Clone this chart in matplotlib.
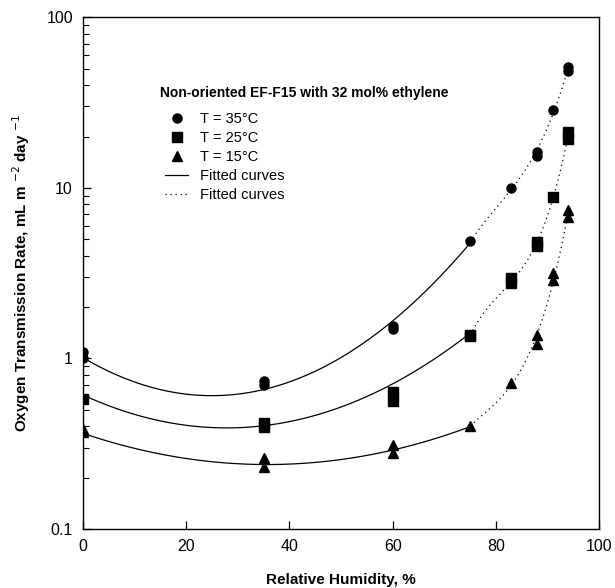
import numpy as np
import matplotlib
matplotlib.use('Agg')
import matplotlib.pyplot as plt
from matplotlib.lines import Line2D
from matplotlib.ticker import FixedLocator, FixedFormatter, LogLocator, NullFormatter

plt.rcParams['font.family'] = ['Liberation Sans', 'DejaVu Sans']

# measured points (RH %, OTR)
rh_35 = [0, 0, 35, 35, 60, 60, 75, 83, 88, 88, 91, 94, 94]
otr_35 = [1.09, 1.0, 0.74, 0.70, 1.54, 1.49, 4.88, 10.0, 16.3, 15.4, 28.5, 51.0, 48.7]
rh_25 = [0, 35, 35, 60, 60, 75, 75, 83, 83, 88, 88, 91, 94, 94]
otr_25 = [0.58, 0.418, 0.396, 0.636, 0.56, 1.375, 1.35, 2.95, 2.76, 4.83, 4.58, 8.85, 21.2, 19.4]
rh_15 = [0, 0, 35, 35, 60, 60, 75, 83, 88, 88, 91, 91, 94, 94]
otr_15 = [0.386, 0.37, 0.261, 0.231, 0.31, 0.279, 0.40, 0.72, 1.37, 1.21, 3.15, 2.88, 7.4, 6.77]

# fitted curves: solid part (0-75 %) and dotted part (75-94 %)
fit_low_x = {'35': [0, 24, 35, 47, 60, 73, 75],
             '25': [0, 30, 35, 47, 60, 73, 75],
             '15': [0, 36, 47, 60, 73, 75]}
fit_low_y = {'35': [1.0, 0.616, 0.677, 0.89, 1.57, 4.13, 4.8],
             '25': [0.61, 0.398, 0.403, 0.477, 0.705, 1.31, 1.37],
             '15': [0.364, 0.24, 0.248, 0.29, 0.377, 0.40]}
fit_high_x = [75, 83, 88, 91, 94]
fit_high_y = {'35': [4.8, 10.0, 16.0, 28.5, 50.0],
              '25': [1.37, 2.85, 4.7, 8.9, 20.3],
              '15': [0.40, 0.72, 1.29, 3.0, 7.05]}

fig = plt.figure(figsize=(6.15, 5.88), dpi=100)
ax = fig.add_axes([0.1345, 0.1003, 0.84, 0.8703])

dotted = (0, (1, 3))

# fitted curves (polynomial in log10 OTR)
for key in ['35', '25', '15']:
    c = np.polyfit(fit_low_x[key], np.log10(fit_low_y[key]), 2)
    xs = np.linspace(0, 75, 200)
    ax.plot(xs, 10 ** np.polyval(c, xs), color='black', lw=0.9)
    c = np.polyfit(fit_high_x, np.log10(fit_high_y[key]), 3)
    xs = np.linspace(75, 94, 100)
    ax.plot(xs, 10 ** np.polyval(c, xs), color='black', lw=0.9, linestyle=dotted)

ax.plot(rh_35, otr_35, 'o', color='black', ms=6.5, zorder=3)
ax.plot(rh_25, otr_25, 's', color='black', ms=6.5, zorder=3)
ax.plot(rh_15, otr_15, '^', color='black', ms=6.8, zorder=3)

ax.set_yscale('log')
ax.set_xlim(0, 100)
ax.set_ylim(0.1, 100)
ax.xaxis.set_major_locator(FixedLocator([0, 20, 40, 60, 80, 100]))
ax.yaxis.set_major_locator(FixedLocator([0.1, 1, 10, 100]))
ax.yaxis.set_major_formatter(FixedFormatter(['0.1', '1', '10', '100']))
ax.yaxis.set_minor_locator(LogLocator(base=10, subs=np.arange(2, 10)))
ax.yaxis.set_minor_formatter(NullFormatter())
ax.tick_params(axis='both', which='both', direction='in', labelsize=11.5,
               top=False, right=False)
ax.tick_params(axis='both', which='major', length=6, width=0.9, pad=7)
ax.tick_params(axis='y', which='minor', length=4, width=0.8)
for s in ax.spines.values():
    s.set_linewidth(1.0)

ax.set_xlabel('Relative Humidity, %', fontsize=11, fontweight='bold', labelpad=14)
ax.set_ylabel('Oxygen Transmission Rate, mL m $^{-2}$ day $^{-1}$',
              fontsize=11, fontweight='bold', labelpad=10)

# legend: title is a separate text, slightly left of the entries
fig.text(160 / 615, 1 - 93 / 588, 'Non-oriented EF-F15 with 32 mol% ethylene',
         fontsize=10, fontweight='bold', ha='left', va='center')

handles = [
    Line2D([], [], marker='o', color='black', linestyle='none', ms=6.5),
    Line2D([], [], marker='s', color='black', linestyle='none', ms=6.5),
    Line2D([], [], marker='^', color='black', linestyle='none', ms=6.8),
    Line2D([], [], color='black', lw=0.9),
    Line2D([], [], color='black', lw=0.9, linestyle=dotted),
]
labels = ['T = 35°C', 'T = 25°C', 'T = 15°C', 'Fitted curves', 'Fitted curves']
ax.legend(handles, labels, loc='upper left',
          bbox_to_anchor=(165 / 615, 1 - 112 / 588), bbox_transform=fig.transFigure,
          frameon=False, fontsize=10.5, handlelength=1.6, handletextpad=0.8,
          labelspacing=0.35, borderaxespad=0, borderpad=0)

fig.savefig('out.png', dpi=100)
